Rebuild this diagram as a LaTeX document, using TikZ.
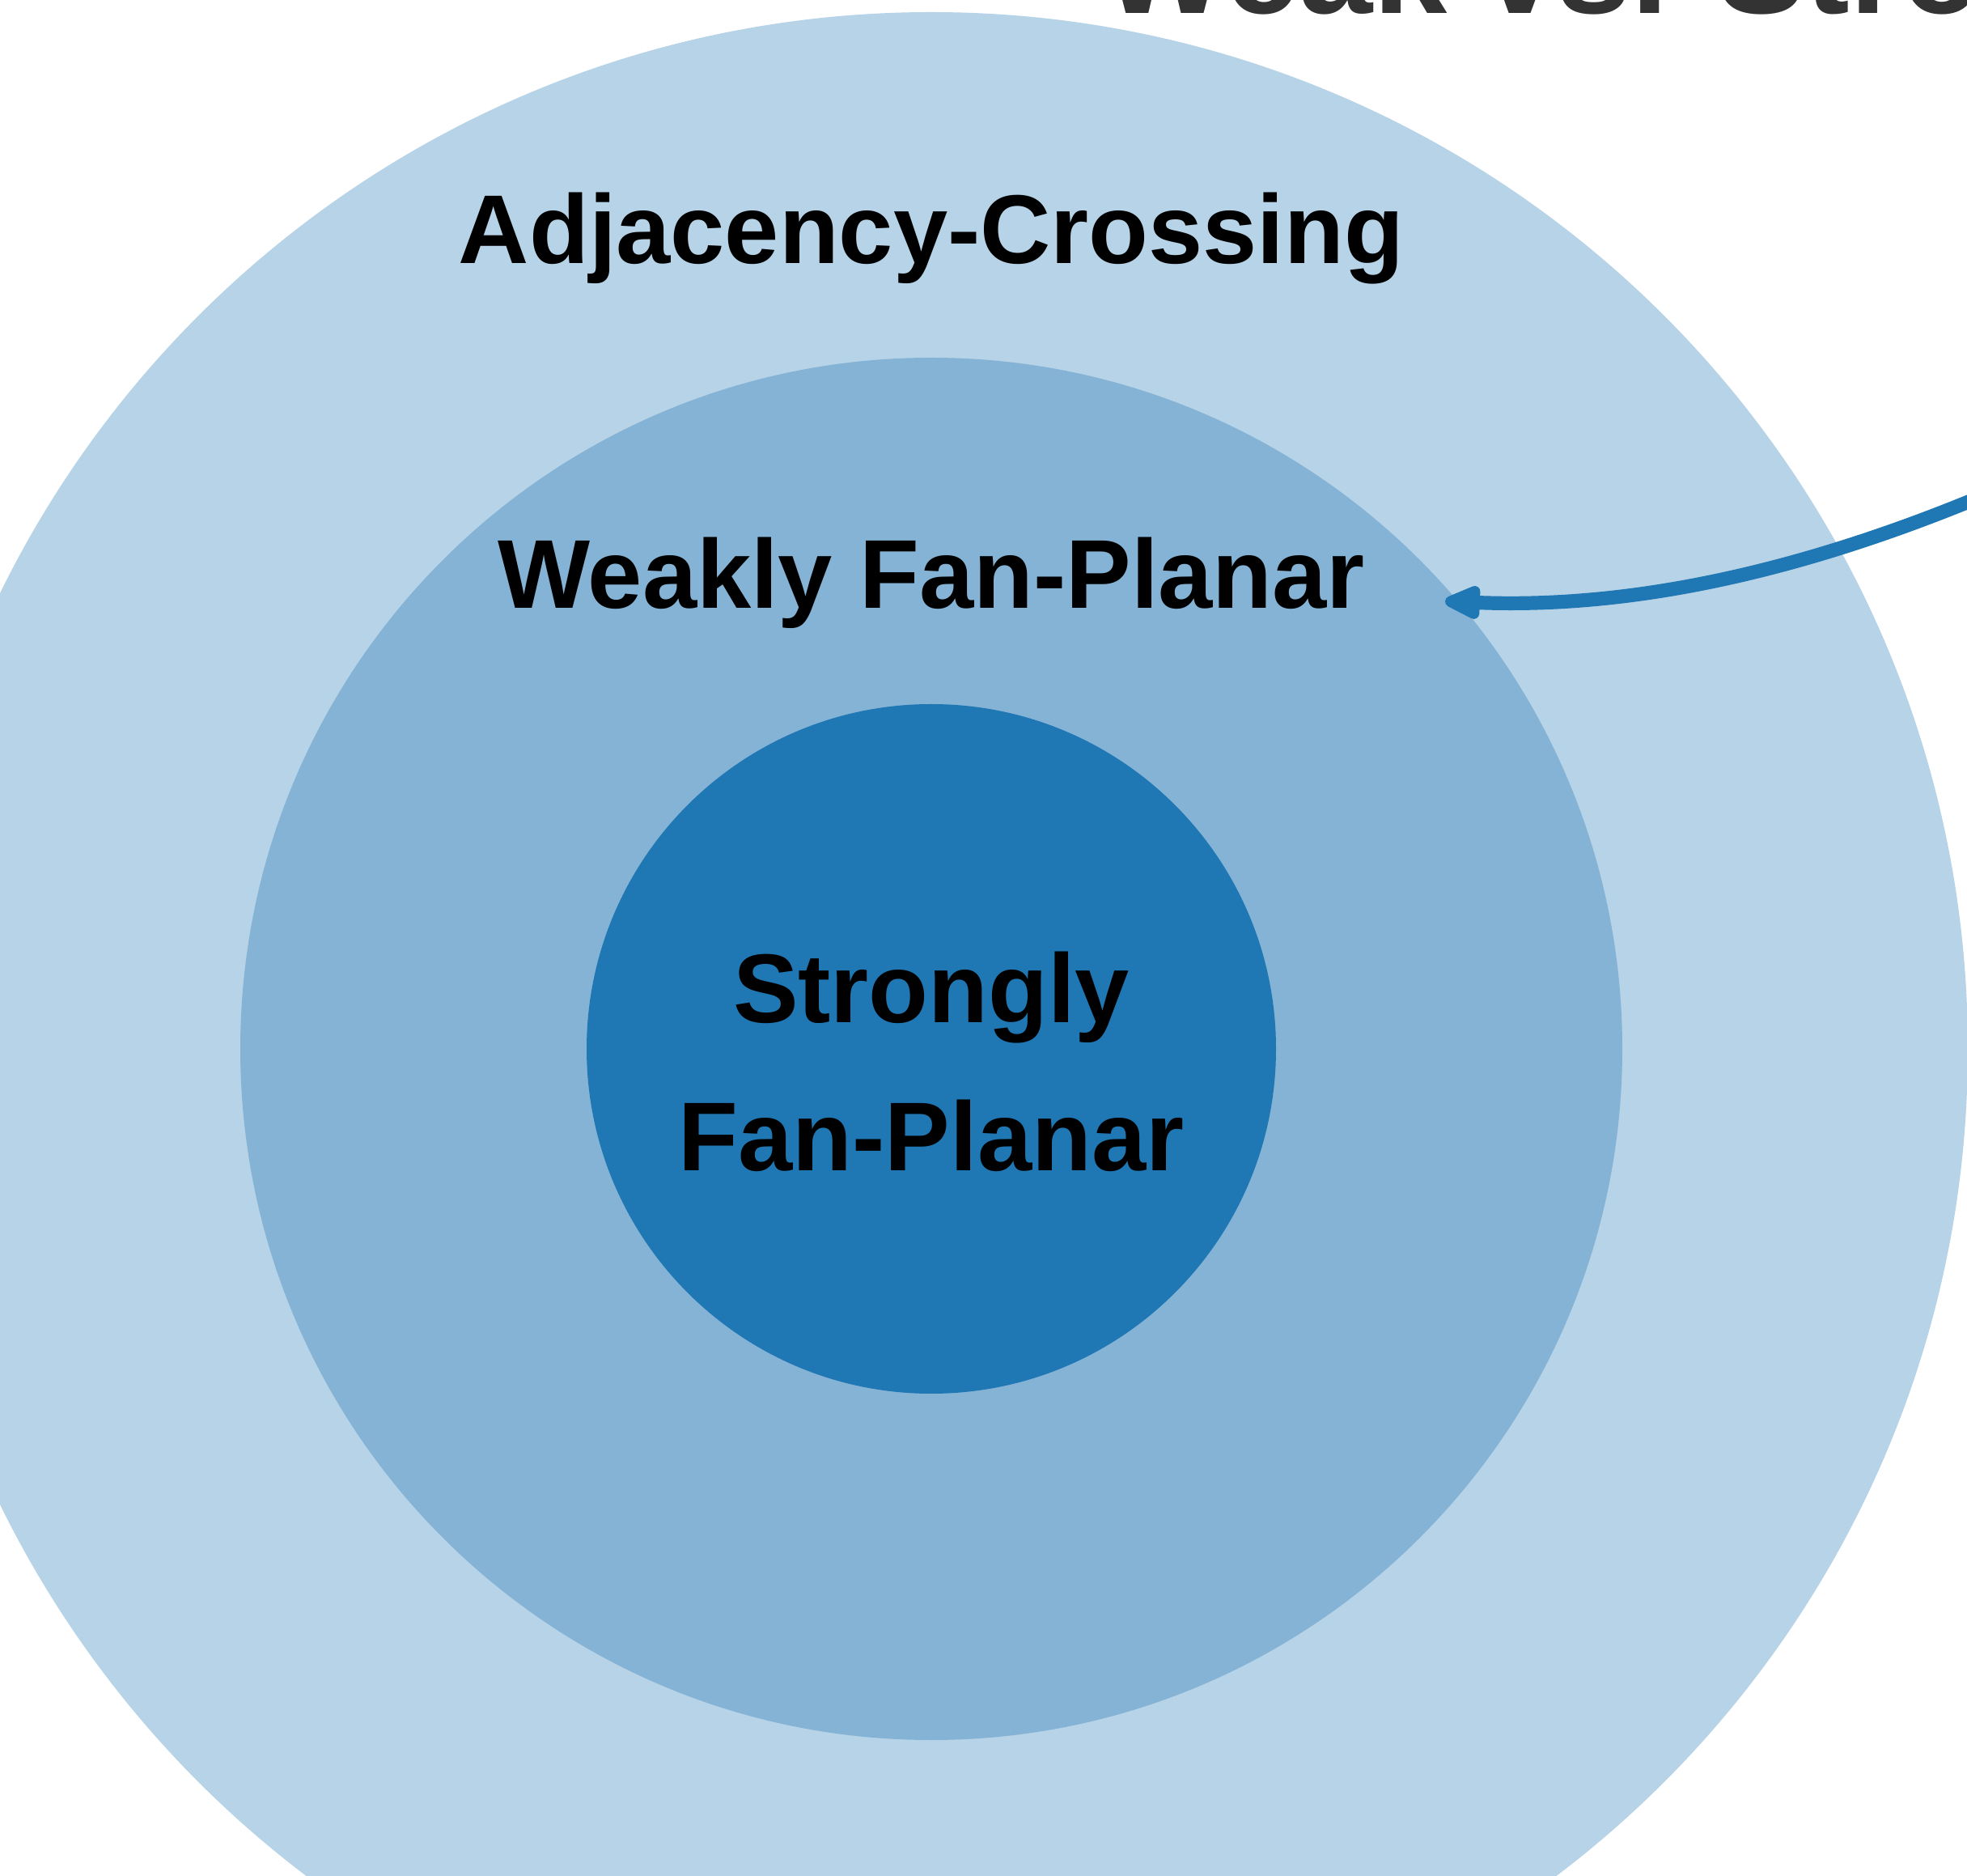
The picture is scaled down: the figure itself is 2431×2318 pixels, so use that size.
\documentclass[tikz,border=0pt]{standalone}
\usepackage{fontspec}
\setmainfont{Liberation Sans}
\usetikzlibrary{arrows.meta}
\definecolor{outerc}{HTML}{B7D3E7}
\definecolor{midc}{HTML}{84B3D5}
\definecolor{innerc}{HTML}{1F77B4}
\definecolor{titlec}{HTML}{333333}
\tikzset{
  lbl/.style={font=\fontsize{30.2}{36}\selectfont\bfseries, text=black, inner sep=0pt, anchor=base},
  ttl/.style={font=\fontsize{41}{48}\selectfont\bfseries, text=titlec, inner sep=0pt, anchor=base west},
  pointer/.style={draw=innerc, line width=4.3pt, line cap=round,
    -{Triangle[round, length=13.5pt, width=11pt]}}
}
\begin{document}
\begin{tikzpicture}[x=0.25pt, y=-0.25pt]
\useasboundingbox (0,0) rectangle (2431,2318);
\clip (0,0) rectangle (2431,2318);
\fill[outerc] (1151,1296) circle[radius=320.25pt];
\fill[midc] (1151,1296) circle[radius=213.5pt];
\fill[innerc] (1151,1296) circle[radius=106.5pt];
\node[ttl] (title) at (1362,17) {Weak vs. Strong};
\node[lbl] (adj) at (1151,326) {Adjacency-Crossing};
\node[lbl] (weak) at (1151,752) {Weakly Fan-Planar};
\node[lbl] (strong1) at (1151,1264) {Strongly};
\node[lbl] (strong2) at (1151,1447) {Fan-Planar};
\coordinate (src) at (2445,615);
\coordinate (tip) at (1786,743);
\draw[pointer] (src) .. controls (2215,710) and (2010,752) .. (tip);
\end{tikzpicture}
\end{document}
